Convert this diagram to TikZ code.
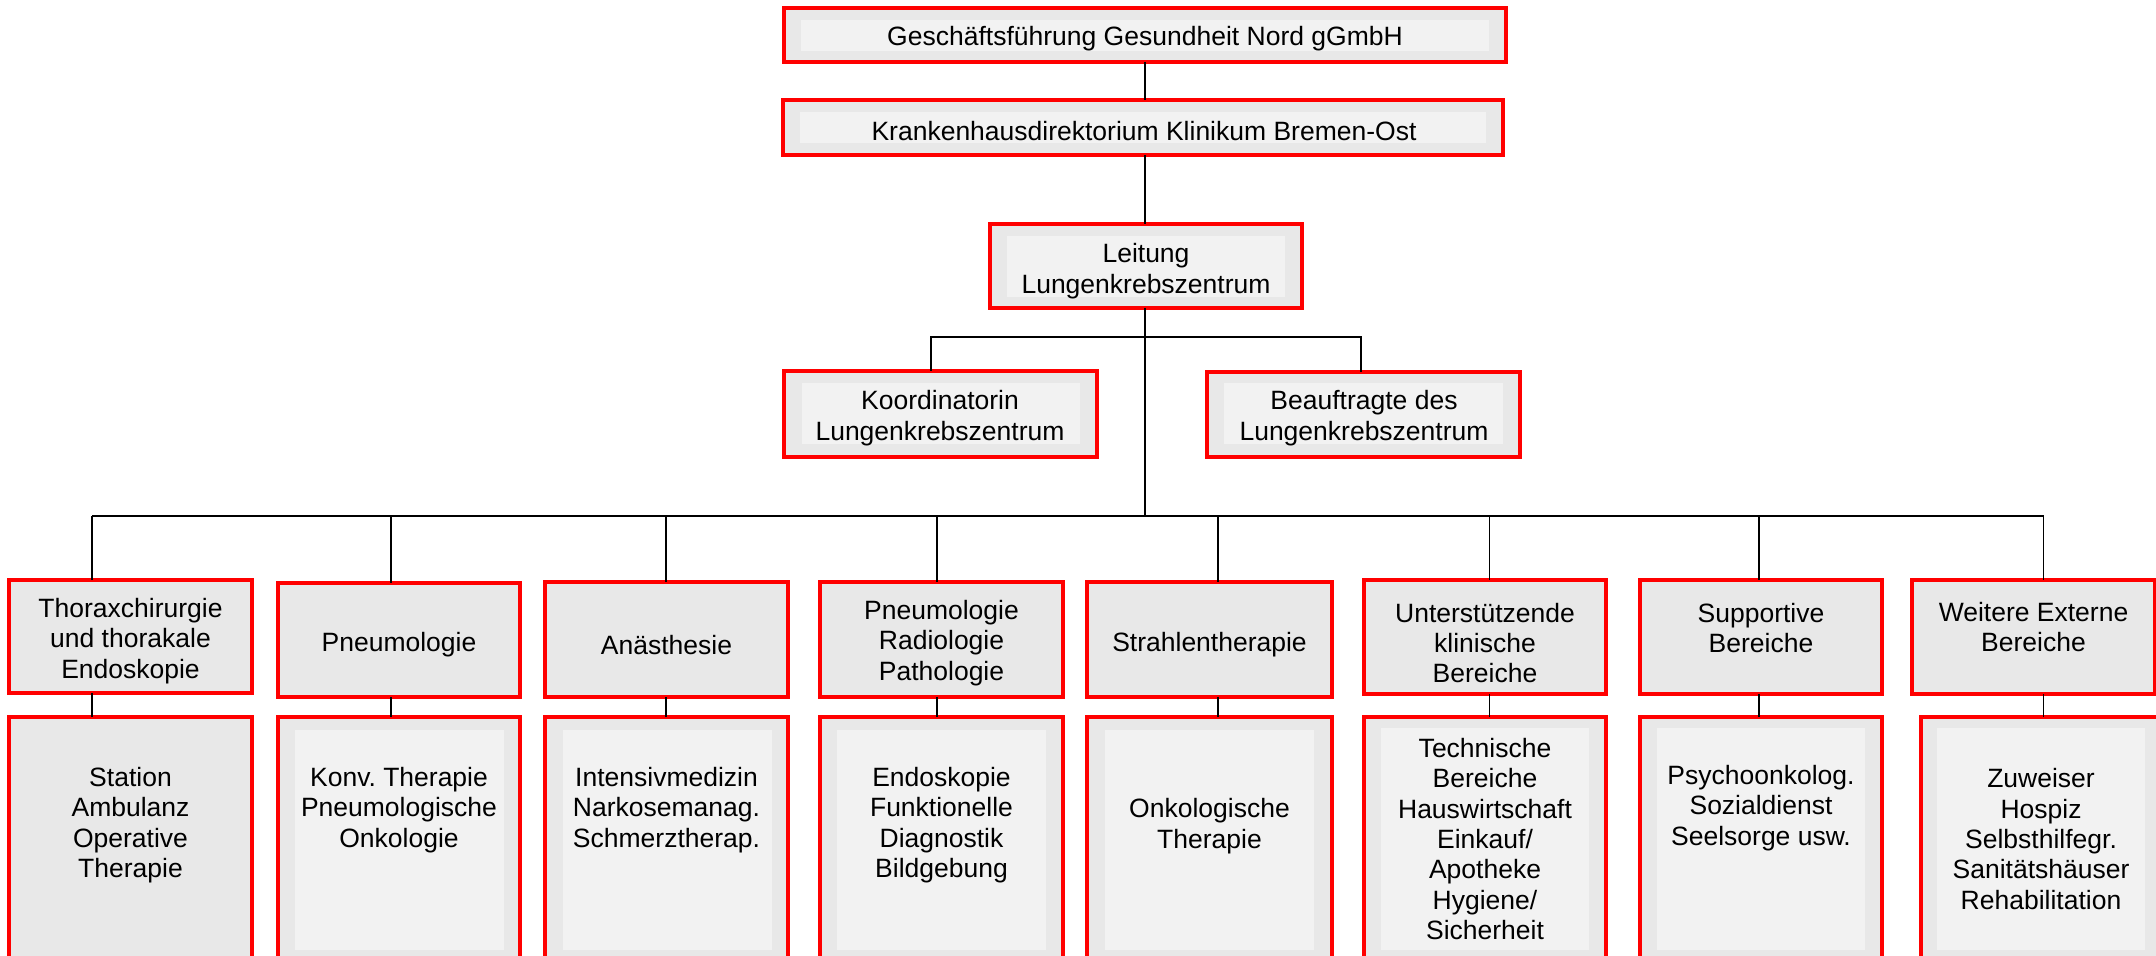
\documentclass[tikz,border=0pt]{standalone}
\usepackage{fontspec}
\setmainfont{Liberation Sans}
\usetikzlibrary{fit}
\definecolor{boxgray}{HTML}{E8E8E8}
\definecolor{innergray}{HTML}{F2F2F2}
\frenchspacing
\begin{document}
\begin{tikzpicture}[x=0.5pt,y=-0.5pt,
  box/.style={draw=red, line width=1.8pt, fill=boxgray, inner sep=0pt, outer sep=0pt},
  innerfill/.style={fill=innergray},
  txt/.style={align=center, inner sep=0pt, yshift=-1.5pt, font=\fontsize{13.25}{15.2}\selectfont},
  conn/.style={draw=black, line width=0.9pt}]
\useasboundingbox (0,0) rectangle (2156,956);
\clip (0,0) rectangle (2156,956);

% upper hierarchy
\node[box, fit={(784,8) (1506,62)}] (gf) {};
\fill[innerfill] (801,20) rectangle (1489,51);
\node[txt] (gft) at (1145,36) {Geschäftsführung Gesundheit Nord gGmbH};

\node[box, fit={(783,100) (1503,155)}] (kd) {};
\fill[innerfill] (800,112) rectangle (1486,143);
\node[txt] (kdt) at (1144,128) {Krankenhausdirektorium Klinikum Bremen-Ost};

\node[box, fit={(990,224) (1302,308)}] (lt) {};
\fill[innerfill] (1007,236) rectangle (1285,297);
\node[txt] (ltt) at (1146,268) {Leitung\\Lungenkrebszentrum};

\node[box, fit={(784,371) (1097,457)}] (ko) {};
\fill[innerfill] (802,383) rectangle (1080,444);
\node[txt] (kot) at (940,415) {Koordinatorin\\Lungenkrebszentrum};

\node[box, fit={(1207,372) (1520,457)}] (be) {};
\fill[innerfill] (1224,383) rectangle (1503,444);
\node[txt] (bet) at (1364,415) {Beauftragte des\\Lungenkrebszentrum};

% top row
\node[box, fit={(9,580) (252,693)}] (t1) {};
\node[txt] (t1t) at (130.5,638) {Thoraxchirurgie\\und thorakale\\Endoskopie};
\node[box, fit={(278,583) (520,697)}] (t2) {};
\node[txt] (t2t) at (399,642) {Pneumologie};
\node[box, fit={(545,582) (788,697)}] (t3) {};
\node[txt] (t3t) at (666.5,642) {Anästhesie};
\node[box, fit={(820,582) (1063,697)}] (t4) {};
\node[txt] (t4t) at (941.5,640) {Pneumologie\\Radiologie\\Pathologie};
\node[box, fit={(1087,582) (1332,697)}] (t5) {};
\node[txt] (t5t) at (1209.5,642) {Strahlentherapie};
\node[box, fit={(1364,580) (1606,694)}] (t6) {};
\node[txt] (t6t) at (1485,640) {Unterstützende\\klinische\\Bereiche};
\node[box, fit={(1640,580) (1882,694)}] (t7) {};
\node[txt] (t7t) at (1761,625) {Supportive\\Bereiche};
\node[box, fit={(1912,580) (2155,694)}] (t8) {};
\node[txt] (t8t) at (2033.5,624) {Weitere Externe\\Bereiche};

% bottom row
\node[box, fit={(9,717) (252,985)}] (b1) {};
\node[txt] (b1t) at (130.5,822) {Station\\Ambulanz\\Operative\\Therapie};
\node[box, fit={(278,717) (520,985)}] (b2) {};
\fill[innerfill] (295,730) rectangle (504,950);
\node[txt] (b2t) at (399,807) {Konv. Therapie\\Pneumologische\\Onkologie};
\node[box, fit={(545,717) (788,985)}] (b3) {};
\fill[innerfill] (563,730) rectangle (772,950);
\node[txt] (b3t) at (666.5,807) {Intensivmedizin\\Narkosemanag.\\Schmerztherap.};
\node[box, fit={(820,717) (1063,985)}] (b4) {};
\fill[innerfill] (837,730) rectangle (1046,950);
\node[txt] (b4t) at (941.5,822) {Endoskopie\\Funktionelle\\Diagnostik\\Bildgebung};
\node[box, fit={(1087,717) (1332,985)}] (b5) {};
\fill[innerfill] (1105,730) rectangle (1314,950);
\node[txt] (b5t) at (1209.5,823) {Onkologische\\Therapie};
\node[box, fit={(1364,717) (1606,985)}] (b6) {};
\fill[innerfill] (1381,728) rectangle (1589,950);
\node[txt] (b6t) at (1485,836) {Technische\\Bereiche\\Hauswirtschaft\\Einkauf/\\Apotheke\\Hygiene/\\Sicherheit};
\node[box, fit={(1640,717) (1882,985)}] (b7) {};
\fill[innerfill] (1657,728) rectangle (1865,950);
\node[txt] (b7t) at (1761,805) {Psychoonkolog.\\Sozialdienst\\Seelsorge usw.};
\node[box, fit={(1921,717) (2161,985)}] (b8) {};
\fill[innerfill] (1937,728) rectangle (2145,950);
\node[txt] (b8t) at (2041,836) {Zuweiser\\Hospiz\\Selbsthilfegr.\\Sanitätshäuser\\Rehabilitation};

% connectors
\coordinate (spine) at (1145,516);
\coordinate (brL) at (931,337);
\coordinate (brR) at (1361,337);
\coordinate (d1) at (92,516);
\coordinate (d2) at (391,516);
\coordinate (d3) at (666,516);
\coordinate (d4) at (937,516);
\coordinate (d5) at (1218,516);
\coordinate (d6) at (1489.5,516);
\coordinate (d7) at (1759,516);
\coordinate (d8) at (2043.5,516);

\draw[conn] (gf.south -| spine) -- (kd.north -| spine);
\draw[conn] (kd.south -| spine) -- (lt.north -| spine);
\draw[conn] (lt.south -| spine) -- (spine);
\draw[conn] (ko.north -| brL) -- (brL) -- (brR) -- (be.north -| brR);
\draw[conn] (d1) -- (d8);
\foreach \i in {1,...,8} {
  \draw[conn] (d\i) -- (t\i.north -| d\i);
  \draw[conn] (t\i.south -| d\i) -- (b\i.north -| d\i);
}
\end{tikzpicture}
\end{document}
